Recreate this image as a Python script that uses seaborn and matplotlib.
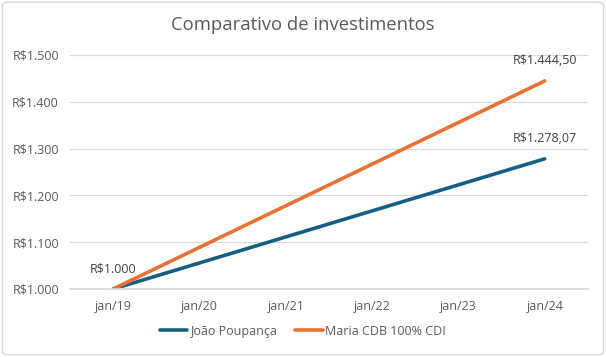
import numpy as np
import pandas as pd
import seaborn as sns
from matplotlib import pyplot as plt
from matplotlib.patches import FancyBboxPatch

# data
anos = ['jan/19', 'jan/20', 'jan/21', 'jan/22', 'jan/23', 'jan/24']
pos_joao = [0, 5]
joao = [1000.00, 1278.07]
pos_maria = [0, 5]
maria = [1000.00, 1444.50]
series = ['João Poupança', 'Maria CDB 100% CDI']
yticks = [1000, 1100, 1200, 1300, 1400, 1500]

df = pd.DataFrame({
    'x': pos_joao + pos_maria,
    'valor': joao + maria,
    'serie': [series[0]] * len(joao) + [series[1]] * len(maria),
})

sns.set_theme(style='white')
plt.rcParams['font.family'] = ['Open Sans', 'DejaVu Sans']
cinza = '#595959'

fig = plt.figure(figsize=(6.06, 3.57), dpi=100)
ax = fig.add_axes([0.1155, 0.1905, 0.8545, 0.6555])

sns.lineplot(data=df, x='x', y='valor', hue='serie', ax=ax,
             palette=['#156082', '#E97132'], linewidth=2.6, legend=True)

ax.set_xlim(-0.5, 5.5)
ax.set_ylim(1000, 1500)
ax.set_xticks(range(len(anos)))
ax.set_xticklabels(anos)
ax.set_yticks(yticks)
ax.set_yticklabels(['R$' + f'{v:,}'.replace(',', '.') for v in yticks])
ax.tick_params(colors=cinza, labelsize=9, length=0, pad=8)
ax.grid(axis='y', color='#d9d9d9', linewidth=0.9)
ax.set_axisbelow(True)
for s in ax.spines.values():
    s.set_visible(False)
ax.spines['bottom'].set_visible(True)
ax.spines['bottom'].set_color('#d9d9d9')
ax.set_xlabel('')
ax.set_ylabel('')

def fmt(v, dec=True):
    s = f'{v:,.2f}' if dec else f'{v:,.0f}'
    return 'R$' + s.replace(',', 'X').replace('.', ',').replace('X', '.')

ax.annotate(fmt(maria[0], False), (pos_maria[0], maria[0]), xytext=(0, 10),
            textcoords='offset points', ha='center', va='bottom', fontsize=9, color='#404040')
ax.annotate(fmt(maria[-1]), (pos_maria[-1], maria[-1]), xytext=(0, 10),
            textcoords='offset points', ha='center', va='bottom', fontsize=9, color='#404040')
ax.annotate(fmt(joao[-1]), (pos_joao[-1], joao[-1]), xytext=(0, 10),
            textcoords='offset points', ha='center', va='bottom', fontsize=9, color='#404040')

ax.legend(loc='center', bbox_to_anchor=(0.45, -0.18), ncol=2, frameon=False,
          fontsize=9, labelcolor=cinza, handlelength=2.2, handletextpad=0.2,
          columnspacing=1.5)

fig.text(0.5, 0.93, 'Comparativo de investimentos', ha='center', va='center',
         fontsize=13.3, color=cinza)

fig.patches.append(FancyBboxPatch((0.004, 0.006), 0.992, 0.988,
                                  boxstyle='round,pad=0,rounding_size=0.01',
                                  transform=fig.transFigure, fill=False,
                                  edgecolor='#d9d9d9', linewidth=1))

fig.savefig('out.png', dpi=100)
